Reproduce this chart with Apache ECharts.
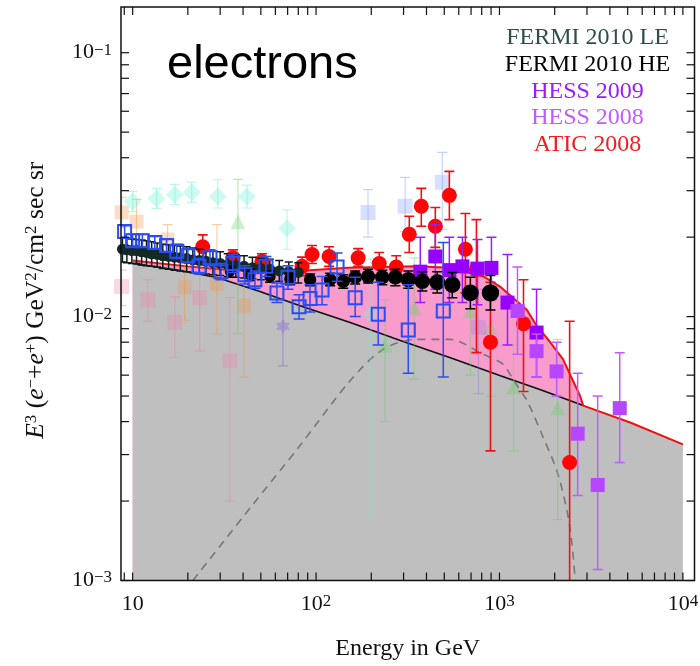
<!DOCTYPE html>
<html>
<head>
<meta charset="utf-8">
<script src="https://cdn.jsdelivr.net/npm/echarts@6/dist/echarts.min.js"></script>
<style>
  html, body { margin: 0; padding: 0; background: #fff; }
  #chart { width: 700px; height: 666px; }
</style>
</head>
<body>
<div id="chart"></div>
<script>
// ---- axis ranges (GeV, GeV^2 cm^-2 s^-1 sr^-1) ----
const E_MIN = 8.64, E_MAX = 11570;
const F_MIN = 0.001, F_MAX = 0.149;

// ---- tick marks and decade labels ----
const energyTicks = [9, 10, 20, 30, 40, 50, 60, 70, 80, 90,
  100, 200, 300, 400, 500, 600, 700, 800, 900,
  1000, 2000, 3000, 4000, 5000, 6000, 7000, 8000, 9000, 10000];
const fluxTicks = [0.001, 0.002, 0.003, 0.004, 0.005, 0.006, 0.007, 0.008, 0.009,
  0.01, 0.02, 0.03, 0.04, 0.05, 0.06, 0.07, 0.08, 0.09, 0.1];
const energyDecades = [10, 100, 1000, 10000];
const energyDecadeLabels = ['{b|10}', '{b|10}{s|2}', '{b|10}{s|3}', '{b|10}{s|4}'];
const fluxDecades = [0.001, 0.01, 0.1];
const fluxDecadeLabels = ['{b|10}{s|\u22123}', '{b|10}{s|\u22122}', '{b|10}{s|\u22121}'];

// ---- model curves [E, E^3 flux] ----
const backgroundCurve = [
  [10, 0.0159], [18.1, 0.01495], [28.8, 0.01406], [49.4, 0.01245], [81.8, 0.0110],
  [153.5, 0.00949], [288, 0.00811], [540, 0.00699], [1012, 0.00597], [1675, 0.00528],
  [2860, 0.0046], [5200, 0.00396], [10000, 0.00328]
];
const totalCurve = [
  [10, 0.0163], [20, 0.0155], [30, 0.0151], [50, 0.0148], [80, 0.0149], [150, 0.0153],
  [350, 0.0155], [540, 0.0153], [818, 0.0142], [1007, 0.0130], [1412, 0.0106],
  [1601, 0.0092], [1839, 0.0082], [2219, 0.0069], [2751, 0.0050], [2860, 0.0046]
];
const signalCurve = [
  [21.3, 0.0010], [44.7, 0.00192], [81.6, 0.00324], [153, 0.0057], [231, 0.0075],
  [355, 0.0082], [537, 0.0082], [813, 0.0072], [1045, 0.0066], [1200, 0.0057],
  [1413, 0.0048], [1726, 0.0035], [2057, 0.0026], [2330, 0.00185], [2478, 0.0014],
  [2590, 0.0010]
];

// ---- measurements [E, value, lower end, upper end] ----
const fermiLE = [
  [8.8, 0.0180, 0.0161, 0.0199], [9.3, 0.0179, 0.0160, 0.0198], [9.9, 0.0178, 0.0159, 0.0197],
  [10.5, 0.0178, 0.0159, 0.0196], [11.2, 0.0176, 0.0157, 0.0195], [11.9, 0.0175, 0.0156, 0.0194],
  [12.7, 0.0173, 0.0155, 0.0192], [13.6, 0.0172, 0.0154, 0.0190], [14.6, 0.0170, 0.0152, 0.0188],
  [15.7, 0.0169, 0.0151, 0.0187], [16.9, 0.0168, 0.0150, 0.0186], [18.2, 0.0167, 0.0149, 0.0185],
  [19.7, 0.0166, 0.0148, 0.0184], [21.3, 0.0164, 0.0147, 0.0182], [23.1, 0.0163, 0.0146, 0.0180],
  [25.1, 0.0162, 0.0145, 0.0179], [27.4, 0.0160, 0.0144, 0.0177], [30.0, 0.0159, 0.0143, 0.0176],
  [33.0, 0.0157, 0.0142, 0.0173], [36.5, 0.0156, 0.0141, 0.0172], [40.5, 0.0155, 0.0140, 0.0170],
  [45.0, 0.0153, 0.0139, 0.0168], [50.0, 0.0152, 0.0138, 0.0166], [56.0, 0.0151, 0.0137, 0.0165],
  [63.0, 0.0149, 0.0136, 0.0163], [71.0, 0.0148, 0.0135, 0.0161], [80.0, 0.0147, 0.0134, 0.0160]
];
const fermiHE = [
  [33.9, 0.0148, 0.0141, 0.0155], [43.6, 0.0144, 0.0137, 0.0151], [56.1, 0.0142, 0.0135, 0.0149],
  [72.2, 0.0139, 0.0132, 0.0146], [92.8, 0.0138, 0.0131, 0.0145], [119.3, 0.0138, 0.0131, 0.0146],
  [140.6, 0.0136, 0.0128, 0.0144], [163.4, 0.0141, 0.0133, 0.0149], [192.3, 0.0142, 0.0134, 0.0151],
  [229.5, 0.0141, 0.0132, 0.0150], [270.5, 0.0141, 0.0131, 0.0151], [318.5, 0.0138, 0.0128, 0.0149],
  [379.5, 0.0136, 0.0125, 0.0148], [458, 0.0135, 0.0123, 0.0148], [553, 0.0132, 0.0118, 0.0147],
  [694, 0.0123, 0.0107, 0.0141], [893, 0.0123, 0.0106, 0.0143]
];
const openSquares = [
  [9.04, 0.0210, 0.0199, 0.0221], [10.0, 0.0194, 0.0184, 0.0205], [11.3, 0.0194, 0.0184, 0.0205],
  [13.2, 0.0191, 0.0181, 0.0201], [15.3, 0.0186, 0.0176, 0.0196], [17.4, 0.0177, 0.0166, 0.0188],
  [20.0, 0.0170, 0.0160, 0.0181], [23.0, 0.0155, 0.0145, 0.0166], [26.4, 0.0167, 0.0156, 0.0179],
  [30.3, 0.0148, 0.0138, 0.0159], [35.2, 0.0159, 0.0147, 0.0172], [40.9, 0.0144, 0.0133, 0.0156],
  [46.4, 0.0138, 0.0128, 0.0149], [53.3, 0.0155, 0.0142, 0.0169], [61.2, 0.0123, 0.0113, 0.0134],
  [70.3, 0.0141, 0.0127, 0.0156], [80.8, 0.0109, 0.0098, 0.0121], [92.7, 0.0117, 0.0104, 0.0132],
  [107.8, 0.0126, 0.0111, 0.0142], [130.2, 0.0154, 0.0136, 0.0174], [163.4, 0.0118, 0.0100, 0.0141],
  [218.2, 0.0102, 0.0078, 0.0135], [318.3, 0.0089, 0.0061, 0.0132], [494, 0.0105, 0.0059, 0.0191]
];
const atic2008 = [
  [24.1, 0.0184, 0.0166, 0.0204], [35.2, 0.0167, 0.0156, 0.0179], [50.7, 0.0162, 0.0151, 0.0173],
  [83.9, 0.0155, 0.0143, 0.0168], [95.1, 0.0172, 0.0159, 0.0186], [117.8, 0.0169, 0.0155, 0.0184],
  [169.6, 0.0167, 0.0155, 0.0181], [221, 0.0159, 0.0144, 0.0175], [273.6, 0.0154, 0.0138, 0.0170],
  [322.3, 0.0205, 0.0175, 0.0240], [374.8, 0.0262, 0.0220, 0.0306], [446.9, 0.0220, 0.0183, 0.0259],
  [533.1, 0.0288, 0.0233, 0.0355], [652, 0.0180, 0.0123, 0.0246], [748.8, 0.0151, 0.0073, 0.0233],
  [892.9, 0.0080, 0.0031, 0.0135], [1352, 0.0094, 0.0052, 0.0138], [2413, 0.0028, 0.0008, 0.0096]
];
const hess2009 = [
  [370, 0.0148, 0.0113, 0.0200], [447, 0.0169, 0.0127, 0.0223], [533, 0.0150, 0.0113, 0.0200],
  [628, 0.0155, 0.0113, 0.0200], [759, 0.0152, 0.0111, 0.0196], [904, 0.0153, 0.0116, 0.0200],
  [1106, 0.0113, 0.0078, 0.0172], [1593, 0.0087, 0.0059, 0.0127]
];
const hess2008 = [
  [1254, 0.0105, 0.0072, 0.0154], [1593, 0.0074, 0.0059, 0.0086], [2049, 0.0062, 0.0050, 0.0080],
  [2669, 0.0036, 0.0021, 0.0061], [3431, 0.0023, 0.0011, 0.0050], [4527, 0.0045, 0.0028, 0.0073]
];
// older measurements, drawn faded
const olderDiamonds = [
  [10.0, 0.0273, 0.0250, 0.0298], [13.5, 0.0280, 0.0257, 0.0306], [17.0, 0.0290, 0.0266, 0.0317],
  [21.0, 0.0296, 0.0271, 0.0323], [29.1, 0.0285, 0.0258, 0.0330], [42.0, 0.0285, 0.0258, 0.0315],
  [69.4, 0.0216, 0.0180, 0.0254], [199, 0.0102, 0.0017, 0.0165]
];
const olderTriangles = [
  [37.5, 0.0229, 0.0086, 0.0331], [238, 0.0078, 0.0040, 0.0116], [343, 0.0108, 0.0058, 0.0167],
  [694, 0.0105, 0.0060, 0.0160], [893, 0.0091, 0.0050, 0.0135], [1193, 0.0054, 0.0031, 0.0078],
  [2075, 0.0045, 0.0017, 0.0082]
];
const olderOrange = [
  [8.71, 0.0248, 0.0218, 0.0283], [10.5, 0.0229, 0.0183, 0.0278], [15.5, 0.0196, 0.0172, 0.0223],
  [19.2, 0.0129, 0.0097, 0.0172], [28.8, 0.0133, 0.0086, 0.0223], [40.4, 0.0110, 0.0059, 0.0151]
];
const olderPink = [
  [8.7, 0.0130, 0.0110, 0.0150], [12.1, 0.0116, 0.0096, 0.0138], [17.0, 0.0095, 0.0070, 0.0119],
  [23.2, 0.0118, 0.0074, 0.0151], [33.9, 0.0068, 0.0020, 0.0118]
];
const olderLightBlue = [
  [192, 0.0248, 0.0200, 0.0303], [306, 0.0262, 0.0210, 0.0337], [488, 0.0323, 0.0214, 0.0419]
];
const olderLavender = [[768, 0.0091, 0.0051, 0.0127]];
const olderStar = [[66, 0.0092, 0.0065, 0.0155]];

// ---- legend entries ----
const legendNames = ['FERMI 2010 LE', 'FERMI 2010 HE', 'HESS 2009', 'HESS 2008', 'ATIC 2008'];
const legendColors = ['#2f4f4f', '#000000', '#9a1cff', '#bf5cff', '#f21c1c'];

const SERIF = '"Liberation Serif", "Times New Roman", serif';
const SANS = '"Liberation Sans", Arial, sans-serif';

function errorBars(rows, color, cap, width) {
  return {
    type: 'custom', coordinateSystem: 'cartesian2d', clip: true, silent: true,
    data: rows.map(r => [r[0], r[1], r[2], r[3]]),
    renderItem: function (params, api) {
      const e = api.value(0);
      const lo = api.coord([e, api.value(2)]);
      const hi = api.coord([e, api.value(3)]);
      const h = cap / 2;
      const st = { stroke: color, lineWidth: width, fill: null };
      return {
        type: 'group', children: [
          { type: 'line', shape: { x1: lo[0], y1: lo[1], x2: hi[0], y2: hi[1] }, style: st },
          { type: 'line', shape: { x1: lo[0] - h, y1: lo[1], x2: lo[0] + h, y2: lo[1] }, style: st },
          { type: 'line', shape: { x1: hi[0] - h, y1: hi[1], x2: hi[0] + h, y2: hi[1] }, style: st }
        ]
      };
    }
  };
}

function markers(rows, symbol, size, itemStyle) {
  return {
    type: 'scatter', silent: true, clip: true,
    data: rows.map(r => [r[0], r[1]]),
    symbol: symbol, symbolSize: size, itemStyle: itemStyle
  };
}

function tickMarks() {
  const len = 8;
  const xs = energyTicks.map(e => [e, F_MIN]);
  const ys = fluxTicks.map(f => [E_MIN, f]);
  const st = { stroke: '#111', lineWidth: 1.2 };
  return [
    {
      type: 'custom', silent: true, data: xs,
      renderItem: function (params, api) {
        const e = api.value(0);
        const b = api.coord([e, F_MIN]);
        const t = api.coord([e, F_MAX]);
        return { type: 'group', children: [
          { type: 'line', shape: { x1: b[0], y1: b[1], x2: b[0], y2: b[1] - len }, style: st },
          { type: 'line', shape: { x1: t[0], y1: t[1], x2: t[0], y2: t[1] + len }, style: st }
        ]};
      }
    },
    {
      type: 'custom', silent: true, data: ys,
      renderItem: function (params, api) {
        const f = api.value(1);
        const l = api.coord([E_MIN, f]);
        const r = api.coord([E_MAX, f]);
        return { type: 'group', children: [
          { type: 'line', shape: { x1: l[0], y1: l[1], x2: l[0] + len, y2: l[1] }, style: st },
          { type: 'line', shape: { x1: r[0], y1: r[1], x2: r[0] - len, y2: r[1] }, style: st }
        ]};
      }
    }
  ];
}

const lastTotalE = totalCurve[totalCurve.length - 1][0];
const blackPart = backgroundCurve.filter(p => p[0] <= lastTotalE);
const redPart = totalCurve.concat(backgroundCurve.filter(p => p[0] > lastTotalE));

const hexagram = 'path://M0,-10 L2.9,-5 L8.66,-5 L5.8,0 L8.66,5 L2.9,5 L0,10 L-2.9,5 L-8.66,5 L-5.8,0 L-8.66,-5 L-2.9,-5 Z';

const layers = [
  // total model (pink) and background (grey) areas
  { type: 'line', data: totalCurve, symbol: 'none', silent: true, lineStyle: { width: 0 },
    areaStyle: { color: '#f89ccb', opacity: 1, origin: 'start' } },
  { type: 'line', data: backgroundCurve, symbol: 'none', silent: true, lineStyle: { width: 0 },
    areaStyle: { color: '#bfbfbf', opacity: 1, origin: 'start' } },
  { type: 'line', data: blackPart, symbol: 'none', silent: true, lineStyle: { color: '#111', width: 1.6 } },
  { type: 'line', data: redPart, symbol: 'none', silent: true, lineStyle: { color: '#ee1111', width: 2 } },
  { type: 'line', data: signalCurve, symbol: 'none', silent: true, smooth: 0.3,
    lineStyle: { color: '#777', width: 1.6, type: [8, 6] } },

  // faded older data
  errorBars(olderOrange, 'rgba(240,150,70,0.45)', 10, 1.2),
  markers(olderOrange, 'rect', 14, { color: 'rgba(240,150,70,0.4)' }),
  errorBars(olderPink, 'rgba(240,130,170,0.45)', 10, 1.2),
  markers(olderPink, 'rect', 15, { color: 'rgba(240,130,170,0.4)' }),
  errorBars(olderDiamonds, 'rgba(110,240,210,0.45)', 10, 1.2),
  markers(olderDiamonds, 'diamond', 18, { color: 'rgba(120,245,215,0.45)' }),
  errorBars(olderTriangles, 'rgba(100,210,100,0.45)', 10, 1.2),
  markers(olderTriangles, 'triangle', 15, { color: 'rgba(100,210,100,0.4)' }),
  errorBars(olderLightBlue, 'rgba(130,160,255,0.45)', 10, 1.2),
  markers(olderLightBlue, 'rect', 15, { color: 'rgba(130,160,255,0.4)' }),
  errorBars(olderLavender, 'rgba(140,120,230,0.45)', 10, 1.2),
  markers(olderLavender, 'rect', 15, { color: 'rgba(150,130,230,0.4)' }),
  errorBars(olderStar, 'rgba(140,100,220,0.5)', 10, 1.2),
  markers(olderStar, hexagram, 14, { color: 'rgba(140,100,220,0.5)' }),

  // ATIC 2008
  errorBars(atic2008, '#f01010', 10, 1.6),
  markers(atic2008, 'circle', 15, { color: '#ff0505', opacity: 1 }),
  // HESS
  errorBars(hess2009, '#9a1cff', 10, 1.5),
  markers(hess2009, 'rect', 14, { color: '#9600ff', opacity: 1 }),
  errorBars(hess2008, '#bf5cff', 10, 1.5),
  markers(hess2008, 'rect', 14, { color: '#b845ff', opacity: 1 }),
  // Fermi
  errorBars(fermiLE, '#0b1a18', 8, 1.5),
  markers(fermiLE, 'circle', 11, { color: '#132a26', opacity: 1 }),
  errorBars(fermiHE, '#000', 10, 1.5),
  {
    type: 'scatter', silent: true, clip: true,
    data: fermiHE.map(r => [r[0], r[1]]),
    symbol: 'circle',
    symbolSize: function (v) { return 10 + 5 * Math.log10(v[0] / 30); },
    itemStyle: { color: '#000', opacity: 1 }
  },
  // open squares
  errorBars(openSquares, '#2a4cf2', 11, 1.5),
  markers(openSquares, 'rect', 13, { color: 'rgba(0,0,0,0)', borderColor: '#2a4cf2', borderWidth: 2, opacity: 1 })
].concat(tickMarks());

// stack every layer explicitly in the order listed
const series = layers.map((s, i) => Object.assign(s, { z: i + 1 }));

const legendText = legendNames.map((name, i) => ({
  type: 'text', x: 587.5, y: 38 + i * 26.7, z: 200, silent: true,
  style: {
    text: name, fill: legendColors[i], font: '24px ' + SERIF,
    textAlign: 'center', textVerticalAlign: 'middle', align: 'center', verticalAlign: 'middle'
  }
}));

const labelRich = {
  b: { fontSize: 22, fontFamily: SERIF, color: '#111' },
  s: { fontSize: 17, fontFamily: SERIF, color: '#111', verticalAlign: 'top' }
};

const chart = echarts.init(document.getElementById('chart'), null, { renderer: 'canvas' });
chart.setOption({
  animation: false,
  backgroundColor: '#fff',
  textStyle: { fontFamily: SERIF },
  grid: {
    left: 121, top: 7, right: 5.5, bottom: 85.5, containLabel: false, outerBoundsMode: 'none',
    show: true, borderColor: '#111', borderWidth: 1.5, backgroundColor: 'rgba(0,0,0,0)', z: 150
  },
  xAxis: {
    type: 'log', logBase: 10, min: E_MIN, max: E_MAX,
    axisLine: { show: false }, axisTick: { show: false }, splitLine: { show: false },
    axisLabel: {
      showMinLabel: false, showMaxLabel: false, margin: 13, color: '#111',
      formatter: function (v) {
        const i = energyDecades.findIndex(d => Math.abs(Math.log10(v / d)) < 1e-6);
        return i < 0 ? '' : energyDecadeLabels[i];
      },
      rich: labelRich
    },
    name: 'Energy in GeV', nameLocation: 'middle', nameGap: 56,
    nameTextStyle: { fontFamily: SERIF, fontSize: 24, color: '#111' }
  },
  yAxis: {
    type: 'log', logBase: 10, min: F_MIN, max: F_MAX,
    axisLine: { show: false }, axisTick: { show: false }, splitLine: { show: false },
    axisLabel: {
      showMinLabel: true, showMaxLabel: false, margin: 9, color: '#111',
      formatter: function (v) {
        const i = fluxDecades.findIndex(d => Math.abs(Math.log10(v / d)) < 1e-6);
        return i < 0 ? '' : fluxDecadeLabels[i];
      },
      rich: labelRich
    },
    name: '{i|E}{s|3} ({i|e}{s|\u2212}+{i|e}{s|+}) GeV{s|2}/cm{s|2} sec sr',
    nameLocation: 'middle', nameRotate: 90, nameGap: 72,
    nameTextStyle: {
      fontFamily: SERIF, fontSize: 25.5, color: '#111', padding: [0, 13, 0, 0],
      rich: {
        i: { fontFamily: SERIF, fontSize: 25.5, fontStyle: 'italic', color: '#111' },
        s: { fontFamily: SERIF, fontSize: 17, color: '#111', verticalAlign: 'top' }
      }
    }
  },
  graphic: [
    {
      type: 'text', x: 167, y: 65, z: 200, silent: true,
      style: {
        text: 'electrons', fill: '#000', font: '47px ' + SANS,
        textAlign: 'left', textVerticalAlign: 'middle', align: 'left', verticalAlign: 'middle'
      }
    }
  ].concat(legendText),
  series: series
});
</script>
</body>
</html>
